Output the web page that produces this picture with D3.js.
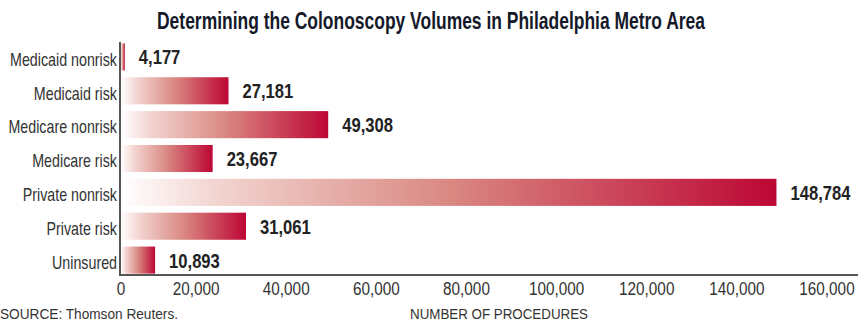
<!DOCTYPE html>
<html>
<head>
<meta charset="utf-8">
<script src="https://cdn.jsdelivr.net/npm/d3@7"></script>
<style>
  body { margin: 0; background: #fff; }
  text { font-family: "Liberation Sans", Arial, sans-serif; }
</style>
</head>
<body>
<script>
// categories + procedure counts
var categories = ["Medicaid nonrisk", "Medicaid risk", "Medicare nonrisk", "Medicare risk",
                  "Private nonrisk", "Private risk", "Uninsured"];
var procedures = [4177, 27181, 49308, 23667, 148784, 31061, 10893];
var tickValues = [0, 20000, 40000, 60000, 80000, 100000, 120000, 140000, 160000];

var data = categories.map(function(c, i) {
    return { name: c, value: procedures[i] };
});

var width = 858, height = 323;
var axisX = 120, axisY = 275;

// no condensed face installed, so squeeze the glyphs horizontally
function condense(sel, factor) {
    sel.each(function() {
        var w = this.getComputedTextLength();
        d3.select(this)
            .attr("textLength", w * factor)
            .attr("lengthAdjust", "spacingAndGlyphs");
    });
}

var svg = d3.select("body").append("svg")
    .attr("width", width)
    .attr("height", height);

// gradient for the bars (white -> crimson, per bar)
var grad = svg.append("defs").append("linearGradient")
    .attr("id", "barGrad")
    .attr("x1", "0%").attr("x2", "100%")
    .attr("y1", "0%").attr("y2", "0%");
grad.append("stop").attr("offset", "0%").attr("stop-color", "#ffffff");
grad.append("stop").attr("offset", "15%").attr("stop-color", "#f2d3cf");
grad.append("stop").attr("offset", "50%").attr("stop-color", "#da8882");
grad.append("stop").attr("offset", "100%").attr("stop-color", "#bc0634");

var x = d3.scaleLinear()
    .domain([0, 160000])
    .range([106, 827]);

var y = d3.scaleBand()
    .domain(categories)
    .range([40, 277])
    .paddingInner(0.2)
    .paddingOuter(0.1);

// title
svg.append("text")
    .attr("x", 431)
    .attr("y", 29)
    .attr("text-anchor", "middle")
    .attr("font-size", 23)
    .attr("font-weight", "bold")
    .attr("fill", "#14192a")
    .text("Determining the Colonoscopy Volumes in Philadelphia Metro Area")
    .attr("textLength", 548)
    .attr("lengthAdjust", "spacingAndGlyphs");

// bars
svg.selectAll(".bar")
    .data(data)
    .enter()
    .append("rect")
    .attr("class", "bar")
    .attr("x", axisX + 1)
    .attr("y", function(d) { return y(d.name); })
    .attr("width", function(d) { return Math.max(x(d.value) - axisX - 1, 0); })
    .attr("height", y.bandwidth())
    .attr("fill", "url(#barGrad)");

// value labels
svg.selectAll(".val")
    .data(data)
    .enter()
    .append("text")
    .attr("class", "val")
    .attr("x", function(d) { return x(d.value) + 14; })
    .attr("y", function(d) { return y(d.name) + y.bandwidth() / 2; })
    .attr("dy", "0.36em")
    .attr("font-size", 21)
    .attr("font-weight", "bold")
    .attr("fill", "#222")
    .text(function(d) { return d3.format(",")(d.value); })
    .call(condense, 0.79);

// category labels
svg.selectAll(".cat")
    .data(data)
    .enter()
    .append("text")
    .attr("class", "cat")
    .attr("x", axisX - 3)
    .attr("y", function(d) { return y(d.name) + y.bandwidth() / 2 + 2; })
    .attr("dy", "0.36em")
    .attr("text-anchor", "end")
    .attr("font-size", 19)
    .attr("fill", "#333")
    .text(function(d) { return d.name; })
    .call(condense, 0.75);

// axis lines
svg.append("line")
    .attr("x1", axisX).attr("x2", axisX)
    .attr("y1", 42).attr("y2", axisY + 1)
    .attr("stroke", "#555").attr("stroke-width", 2);
svg.append("line")
    .attr("x1", axisX - 1).attr("x2", width)
    .attr("y1", axisY).attr("y2", axisY)
    .attr("stroke", "#555").attr("stroke-width", 2);

// tick labels (0 sits on the axis line)
svg.selectAll(".tick")
    .data(tickValues)
    .enter()
    .append("text")
    .attr("class", "tick")
    .attr("x", function(d) { return Math.max(x(d), axisX + 1); })
    .attr("y", 295)
    .attr("text-anchor", "middle")
    .attr("font-size", 18)
    .attr("fill", "#333")
    .text(function(d) { return d3.format(",")(d); })
    .call(condense, 0.85);

// footer
svg.append("text")
    .attr("x", 0)
    .attr("y", 319)
    .attr("font-size", 14.5)
    .attr("fill", "#333")
    .text("SOURCE: Thomson Reuters.")
    .attr("textLength", 178)
    .attr("lengthAdjust", "spacingAndGlyphs");

svg.append("text")
    .attr("x", 410)
    .attr("y", 319)
    .attr("font-size", 14.5)
    .attr("fill", "#333")
    .text("NUMBER OF PROCEDURES")
    .attr("textLength", 178)
    .attr("lengthAdjust", "spacingAndGlyphs");
</script>
</body>
</html>
